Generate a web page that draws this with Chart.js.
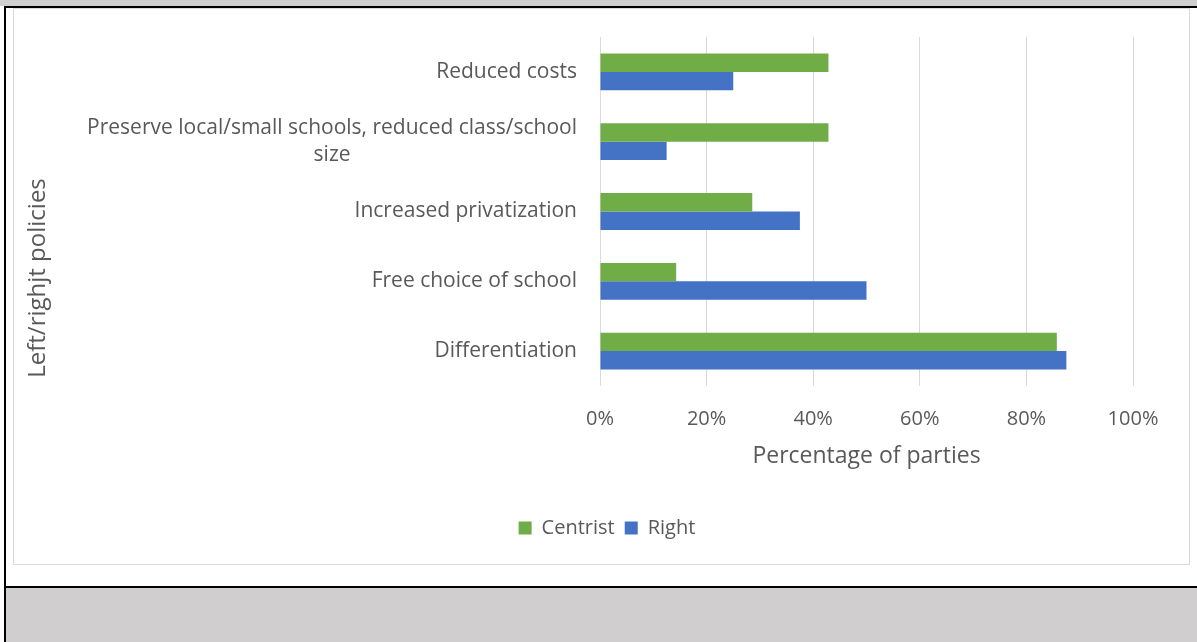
<!DOCTYPE html>
<html>
<head>
<meta charset="utf-8">
<script src="https://cdn.jsdelivr.net/npm/chart.js@4/dist/chart.umd.min.js"></script>
<style>
  html, body { margin: 0; padding: 0; background: #fff; }
  body { width: 1197px; height: 642px; position: relative; overflow: hidden; }
  .band { position: absolute; background: #d0cecf; }
  .line { position: absolute; background: #000; }
  #frame { position: absolute; left: 13px; top: 8px; width: 1177px; height: 557px;
           border: 1px solid #d9d9d9; box-sizing: border-box; }
  #wrap { position: absolute; left: 14px; top: 9px; width: 1175px; height: 555px; }
</style>
</head>
<body>
<div class="band" style="left:0;top:0;width:1197px;height:6px"></div>
<div class="line" style="left:4px;top:6px;width:1193px;height:2px"></div>
<div class="line" style="left:4px;top:6px;width:2px;height:636px"></div>
<div class="line" style="left:4px;top:586px;width:1193px;height:2px"></div>
<div class="band" style="left:6px;top:588px;width:1191px;height:54px"></div>
<div id="frame"></div>
<div id="wrap"><canvas id="chart"></canvas></div>
<script>
const categories = [
    'Reduced costs',
    ['Preserve local/small schools, reduced class/school', 'size'],
    'Increased privatization',
    'Free choice of school',
    'Differentiation'
];
const centristValues = [42.86, 42.86, 28.57, 14.29, 85.71];
const rightValues = [25, 12.5, 37.5, 50, 87.5];
const xTicks = [0, 20, 40, 60, 80, 100];

const textColor = '#595959';
const fontFamily = '"Open Sans", "Noto Sans", sans-serif';

// category labels on the left: single lines right aligned, wrapped label centred on itself
const categoryLabels = {
    id: 'categoryLabels',
    afterDraw(chart) {
        const ctx = chart.ctx;
        const yScale = chart.scales.y;
        const right = chart.chartArea.left - 23;
        ctx.save();
        ctx.font = '21px ' + fontFamily;
        ctx.fillStyle = textColor;
        ctx.textBaseline = 'middle';
        categories.forEach((label, i) => {
            const lines = Array.isArray(label) ? label : [label];
            const cy = yScale.getPixelForValue(i);
            const lineH = 27;
            const widest = Math.max(...lines.map(l => ctx.measureText(l).width));
            lines.forEach((line, j) => {
                const ly = cy + (j - (lines.length - 1) / 2) * lineH;
                if (lines.length > 1) {
                    ctx.textAlign = 'center';
                    ctx.fillText(line, right - widest / 2, ly);
                } else {
                    ctx.textAlign = 'right';
                    ctx.fillText(line, right, ly);
                }
            });
        });
        // vertical axis title
        ctx.translate(24, 269);
        ctx.rotate(-Math.PI / 2);
        ctx.textAlign = 'center';
        ctx.font = '24px ' + fontFamily;
        ctx.fillText('Left/righjt policies', 0, 0);
        ctx.restore();
    }
};

new Chart(document.getElementById('chart'), {
    type: 'bar',
    data: {
        labels: categories,
        datasets: [{
            label: 'Centrist',
            data: centristValues,
            backgroundColor: '#70ad47',
            borderWidth: 0
        }, {
            label: 'Right',
            data: rightValues,
            backgroundColor: '#4472c4',
            borderWidth: 0
        }]
    },
    options: {
        indexAxis: 'y',
        responsive: true,
        maintainAspectRatio: false,
        animation: false,
        datasets: {
            bar: { categoryPercentage: 0.527, barPercentage: 1 }
        },
        layout: {
            padding: { left: 67, right: 56, top: 28, bottom: 16 }
        },
        scales: {
            x: {
                min: 0,
                max: 100,
                afterBuildTicks: scale => {
                    scale.ticks = xTicks.map(v => ({ value: v }));
                },
                afterFit: scale => { scale.height = 122; },
                grid: { color: '#d9d9d9', lineWidth: 1, drawTicks: false },
                border: { display: false },
                ticks: {
                    padding: 21,
                    color: textColor,
                    font: { family: fontFamily, size: 20 },
                    callback: v => v + '%'
                },
                title: {
                    display: true,
                    text: 'Percentage of parties',
                    color: textColor,
                    font: { family: fontFamily, size: 23 },
                    padding: { top: 0, bottom: 38 }
                }
            },
            y: {
                afterFit: scale => { scale.width = 519; },
                grid: { display: false },
                border: { display: false },
                ticks: { display: false }
            }
        },
        plugins: {
            legend: {
                position: 'bottom',
                labels: {
                    color: textColor,
                    font: { family: fontFamily, size: 20 },
                    boxWidth: 13,
                    boxHeight: 13,
                    padding: 10
                }
            },
            tooltip: { enabled: false }
        }
    },
    plugins: [categoryLabels]
});
</script>
</body>
</html>
